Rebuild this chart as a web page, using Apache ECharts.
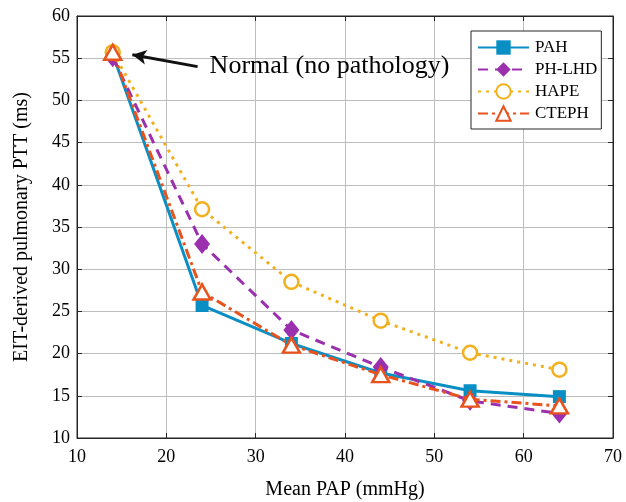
<!DOCTYPE html>
<html><head><meta charset="utf-8">
<script src="https://cdn.jsdelivr.net/npm/echarts@6/dist/echarts.min.js"></script>
<style>html,body{margin:0;padding:0;background:#fff}#c{width:626px;height:502px}</style>
</head><body><div id="c"></div>
<script>
const xValues = [14, 24, 34, 44, 54, 64];
const pah   = [55.5, 25.7, 21.2, 17.7, 15.6, 14.9];
const phlhd = [55.1, 33.0, 22.8, 18.4, 14.4, 12.9];
const hape  = [55.7, 37.1, 28.5, 23.9, 20.1, 18.1];
const cteph = [55.7, 27.3, 21.0, 17.5, 14.6, 13.8];
const seriesNames = ['PAH', 'PH-LHD', 'HAPE', 'CTEPH'];
const annotationText = 'Normal (no pathology)';
const arrowFrom = [23.5, 54.0];
const arrowTo = [16.2, 55.4];

const FONT = '"Liberation Serif", "Times New Roman", serif';
const pair = arr => xValues.map((x, i) => [x, arr[i]]);

const chart = echarts.init(document.getElementById('c'), null, {renderer: 'canvas'});
const axisCommon = {
  axisLine: {show: true, lineStyle: {color: '#262626', width: 1}},
  axisTick: {show: true, inside: true, length: 5, lineStyle: {color: '#262626'}},
  axisLabel: {color: '#000', fontFamily: FONT, fontSize: 18},
};
chart.setOption({
  animation: false,
  grid: {left: 77, right: 13, top: 16, bottom: 64, show: true, borderColor: '#262626', borderWidth: 1,
         containLabel: false, outerBoundsMode: 'none'},
  xAxis: [
    Object.assign({}, axisCommon, {
      type: 'value', min: 10, max: 70, interval: 10,
      name: 'Mean PAP (mmHg)', nameLocation: 'middle', nameGap: 42,
      nameTextStyle: {color: '#000', fontFamily: FONT, fontSize: 20},
      axisLabel: {color: '#000', fontFamily: FONT, fontSize: 18, margin: 10},
      splitLine: {show: true, lineStyle: {color: '#bdbdbd', width: 1}}
    }),
    Object.assign({}, axisCommon, {
      type: 'value', min: 10, max: 70, interval: 10, position: 'top',
      axisLabel: {show: false}, splitLine: {show: false}
    })
  ],
  yAxis: [
    Object.assign({}, axisCommon, {
      type: 'value', min: 10, max: 60, interval: 5,
      name: 'EIT-derived pulmonary PTT (ms)', nameLocation: 'middle', nameGap: 45,
      nameTextStyle: {color: '#000', fontFamily: FONT, fontSize: 20},
      axisLabel: {color: '#000', fontFamily: FONT, fontSize: 18, margin: 7},
      splitLine: {show: true, lineStyle: {color: '#bdbdbd', width: 1}}
    }),
    Object.assign({}, axisCommon, {
      type: 'value', min: 10, max: 60, interval: 5, position: 'right',
      axisLabel: {show: false}, splitLine: {show: false}
    })
  ],
  legend: {
    orient: 'vertical', left: 471, top: 31,
    padding: [8, 4, 7, 6],
    itemWidth: 51, itemHeight: 18, itemGap: 5,
    backgroundColor: '#fff', borderColor: '#262626', borderWidth: 1,
    textStyle: {fontFamily: FONT, fontSize: 17, color: '#000', padding: [0, 0, 0, 1]},
    data: seriesNames
  },
  series: [
    {
      name: seriesNames[0], type: 'line', data: pair(pah),
      symbol: 'rect', symbolSize: 13,
      itemStyle: {color: '#0a8fc4'},
      lineStyle: {color: '#0a8fc4', width: 3, type: 'solid'},
      z: 2
    },
    {
      name: seriesNames[1], type: 'line', data: pair(phlhd),
      symbol: 'diamond', symbolSize: [16, 20],
      itemStyle: {color: '#9b30ae'},
      lineStyle: {color: '#9b30ae', width: 3, type: [10, 7]},
      z: 3
    },
    {
      name: seriesNames[2], type: 'line', data: pair(hape),
      symbol: 'circle', symbolSize: 14,
      itemStyle: {color: '#fff', borderColor: '#f2b01e', borderWidth: 2.5},
      lineStyle: {color: '#f2b01e', width: 3, type: [3, 5]},
      z: 4
    },
    {
      name: seriesNames[3], type: 'line', data: pair(cteph),
      symbol: 'triangle', symbolSize: [17, 15],
      itemStyle: {color: '#fff', borderColor: '#e8521c', borderWidth: 2.5},
      lineStyle: {color: '#e8521c', width: 3, type: [10, 4, 3, 4]},
      z: 5,
      markLine: {
        silent: true, symbol: ['none', 'arrow'], symbolSize: [11, 14],
        lineStyle: {color: '#111', width: 3, type: 'solid'},
        label: {show: false},
        data: [[{coord: arrowFrom}, {coord: arrowTo}]]
      },
      markPoint: {
        silent: true, symbol: 'circle', symbolSize: 0,
        label: {show: true, position: 'right', distance: 12, formatter: annotationText,
          fontFamily: FONT, fontSize: 26, color: '#000'},
        data: [{coord: [arrowFrom[0], arrowFrom[1]]}]
      }
    }
  ]
});
</script></body></html>
